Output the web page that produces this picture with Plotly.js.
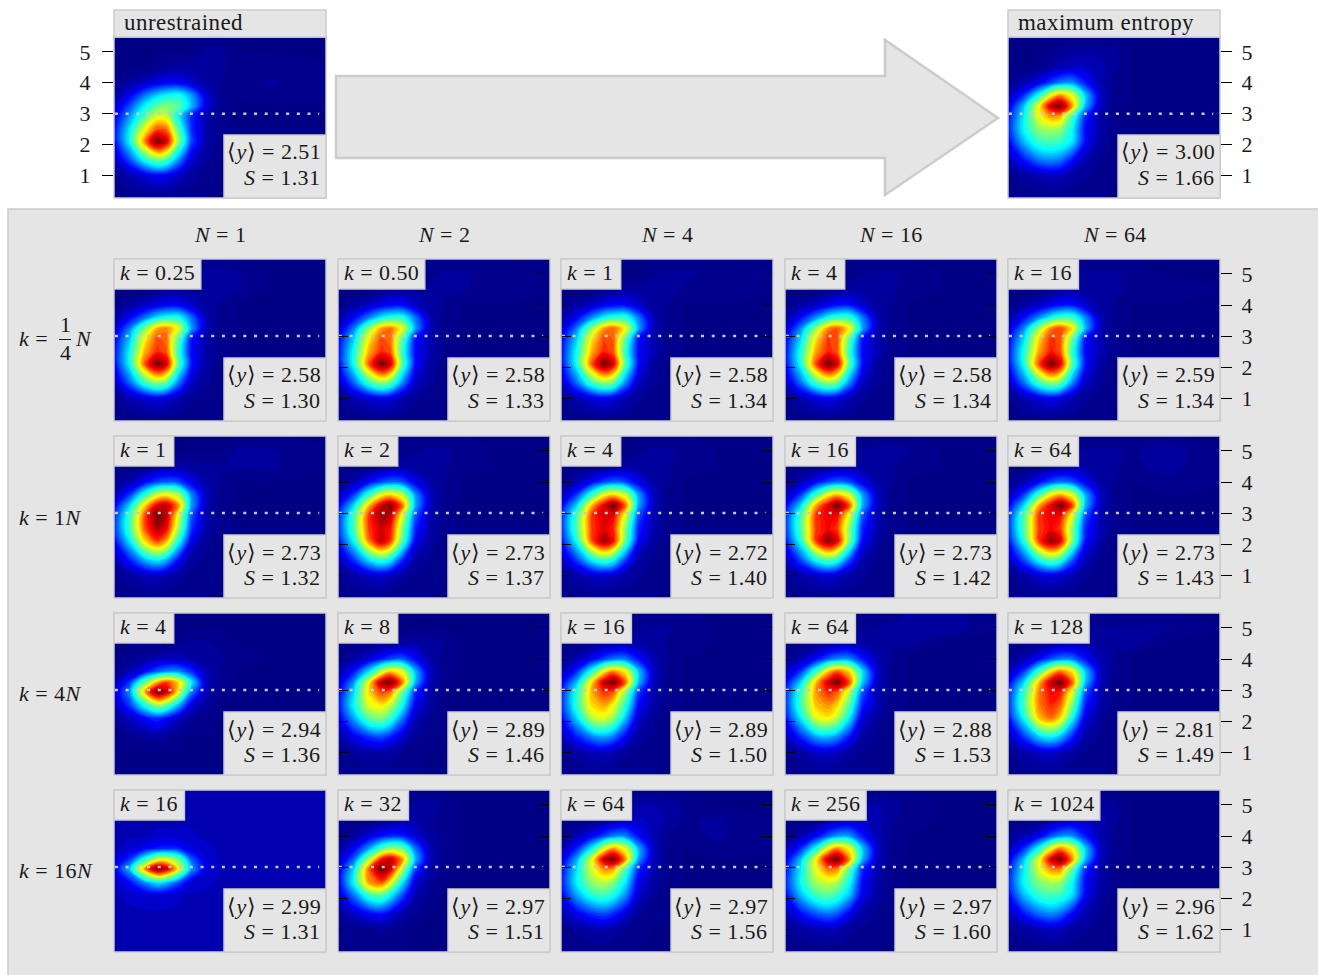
<!DOCTYPE html>
<html><head><meta charset="utf-8">
<script src="https://cdn.plot.ly/plotly-3.0.1.min.js"></script>
<style>html,body{margin:0;padding:0;background:#fff}#g{width:1318px;height:975px}.annotation-text{letter-spacing:.45px}</style>
</head><body><div id="g"></div>
<script>
const gridX=[0,.5,1,1.4,1.7,2.1,2.5,3,3.5,4,5,7];
const gridY=[5.5,5,4.5,4,3.6,3.25,2.95,2.5,2.1,1.5,1,.2];
const tickVals=[1,2,3,4,5];
const colNames=["N = 1","N = 2","N = 4","N = 16","N = 64"];

const zUnrestrained=[[0,0,0,0,0,0,0,0,0,0,0,0],[0,0,0,0,0,0,0,3,3,0,0,0],[0,0,0,2,3,4,4,4,3,1,1,0],[1,4,8,11,13,13,9,5,2,0,3,0],[4,12,24,32,36,38,28,9,1,0,1,0],[8,20,36,46,50,46,31,10,2,0,0,0],[11,26,44,58,56,36,18,6,1,0,0,0],[14,34,62,78,76,44,18,5,1,0,0,0],[13,36,74,100,90,50,20,5,1,0,0,0],[7,20,38,48,44,26,10,3,0,0,0,0],[2,6,10,13,12,8,4,1,0,0,0,0],[0,0,0,0,0,0,0,0,0,0,0,0]];
const zMaxEnt=[[0,0,0,0,0,0,0,0,0,0,0,0],[0,0,0,1,3,4,4,4,3,0,0,0],[0,0,1,4,6,8,8,6,3,0,0,0],[2,6,12,20,25,26,16,6,1,0,0,0],[6,17,38,62,72,60,32,8,1,0,0,0],[10,30,62,92,100,70,30,7,1,0,0,0],[14,34,62,74,72,44,18,5,0,0,0,0],[16,36,52,54,52,36,14,5,1,0,0,0],[13,30,42,44,42,34,14,4,1,0,0,0],[7,15,24,26,24,14,6,2,0,0,0,0],[2,4,6,8,7,4,3,1,0,0,0,0],[0,0,0,0,0,0,0,0,0,0,0,0]];

const zA1=[[0,0,0,0,0,0,0,0,0,0,0,0],[0,0,0,0,0,1,3,4,4,3,0,0],[0,0,0,2,3,4,4,4,4,3,0,0],[1,4,8,11,13,13,8,4,2,0,0,0],[4,13,24,34,38,38,24,6,1,0,0,0],[8,24,50,70,74,60,28,6,1,0,0,0],[12,30,62,78,76,46,16,5,1,0,0,0],[14,36,70,82,78,40,14,5,1,0,0,0],[13,36,78,100,90,44,16,4,0,0,0,0],[7,22,42,52,46,24,8,3,0,0,0,0],[2,6,9,11,9,6,3,1,0,0,0,0],[0,0,0,0,0,0,0,0,0,0,0,0]];
const zA2=[[0,0,0,0,0,0,0,0,0,0,0,0],[0,0,0,0,0,0,1,2,3,3,1,0],[0,0,0,2,3,4,4,3,3,3,1,0],[1,4,8,12,14,14,8,4,2,0,0,0],[4,13,25,35,39,39,24,6,1,0,0,0],[8,24,51,71,75,61,28,6,1,0,0,0],[12,31,63,78,76,46,16,6,1,0,0,0],[14,37,70,82,78,40,14,6,1,0,0,0],[13,37,78,100,90,44,15,4,0,0,0,0],[7,22,42,52,46,25,8,3,0,0,0,0],[2,6,9,11,10,6,3,1,0,0,0,0],[0,0,0,0,0,0,0,0,0,0,0,0]];
const zA3=[[0,0,0,0,0,0,0,0,0,0,0,0],[0,0,0,0,0,0,0,2,3,3,2,0],[0,0,0,2,3,4,4,4,4,2,1,0],[1,4,8,12,14,14,9,4,2,0,0,0],[4,13,26,36,40,40,25,6,1,0,0,0],[8,24,52,72,77,62,29,6,1,0,0,0],[12,31,64,79,77,47,16,6,1,0,0,0],[14,37,70,83,78,40,14,6,1,0,0,0],[13,37,78,100,89,44,15,4,0,0,0,0],[7,23,43,52,47,25,8,3,0,0,0,0],[2,6,10,12,10,6,3,1,0,0,0,0],[0,0,0,0,0,0,0,0,0,0,0,0]];
const zA4=[[0,0,0,0,0,0,0,0,0,0,0,0],[0,0,0,0,0,0,2,3,3,2,0,0],[0,0,0,2,3,4,4,4,3,1,0,0],[1,4,8,12,15,15,9,4,2,0,0,0],[4,14,26,37,41,41,25,6,1,0,0,0],[8,25,52,73,78,63,29,6,1,0,0,0],[12,32,64,80,78,47,16,6,1,0,0,0],[14,38,71,83,78,40,14,6,1,0,0,0],[13,37,79,100,89,44,15,4,0,0,0,0],[7,23,43,52,47,25,8,3,0,0,0,0],[2,6,10,12,10,6,3,1,0,0,0,0],[0,0,0,0,0,0,0,0,0,0,0,0]];
const zA5=[[0,0,0,0,0,0,0,0,0,0,0,0],[0,0,0,0,0,2,3,3,3,1,0,0],[0,0,1,2,3,4,4,4,3,2,1,0],[1,4,8,12,15,15,9,4,2,0,0,0],[4,14,26,37,42,42,26,6,1,0,0,0],[8,25,53,74,80,64,30,6,1,0,0,0],[12,32,65,81,78,48,16,6,1,0,0,0],[14,38,71,84,78,40,14,6,1,0,0,0],[13,37,79,100,88,44,15,4,0,0,0,0],[7,23,43,52,47,25,8,3,0,0,0,0],[2,6,10,12,10,6,3,1,0,0,0,0],[0,0,0,0,0,0,0,0,0,0,0,0]];

const zB1=[[0,0,0,0,0,0,0,0,0,0,0,0],[0,0,0,0,0,0,0,0,0,3,3,0],[0,0,1,3,4,4,4,3,3,3,3,0],[2,6,14,20,22,20,12,5,2,0,0,0],[6,18,40,58,62,54,26,7,1,0,0,0],[12,32,66,88,92,72,28,6,1,0,0,0],[16,40,78,100,92,60,22,6,1,0,0,0],[17,42,78,94,86,52,18,5,1,0,0,0],[13,34,66,80,70,38,12,3,0,0,0,0],[6,16,30,36,30,14,4,2,0,0,0,0],[2,4,7,8,6,4,2,1,0,0,0,0],[0,0,0,0,0,0,0,0,0,0,0,0]];
const zB2=[[0,0,0,0,0,0,0,0,0,0,0,0],[0,0,0,0,0,1,2,3,3,1,0,0],[0,0,1,3,4,4,4,4,3,1,0,0],[2,6,14,20,23,21,12,5,2,0,0,0],[6,18,41,60,65,56,27,7,1,0,0,0],[12,32,68,90,98,75,29,7,1,0,0,0],[16,41,80,96,92,60,22,6,1,0,0,0],[17,43,80,90,84,50,17,5,1,0,0,0],[14,36,74,92,80,44,13,4,0,0,0,0],[6,18,34,42,36,17,5,2,0,0,0,0],[2,5,8,9,7,4,2,1,0,0,0,0],[0,0,0,0,0,0,0,0,0,0,0,0]];
const zB3=[[0,0,0,0,0,0,0,0,0,0,0,0],[0,0,0,0,0,0,2,3,3,2,0,0],[0,0,1,2,3,4,4,4,3,1,0,0],[2,6,14,20,23,20,12,5,2,0,0,0],[6,18,41,61,66,57,28,7,1,0,0,0],[12,32,69,88,100,76,29,7,1,0,0,0],[16,42,80,90,88,60,22,6,1,0,0,0],[17,44,80,88,82,50,17,6,1,0,0,0],[14,37,78,96,85,46,14,4,0,0,0,0],[7,19,36,44,38,19,5,2,0,0,0,0],[2,5,8,9,8,5,3,1,0,0,0,0],[0,0,0,0,0,0,0,0,0,0,0,0]];
const zB4=[[0,0,0,0,0,0,0,0,0,0,0,0],[0,0,0,0,0,0,3,4,4,3,0,0],[0,0,1,2,3,4,4,4,3,1,0,0],[2,6,14,20,23,20,12,5,2,0,0,0],[6,18,42,62,68,58,28,8,1,0,0,0],[12,32,70,88,100,78,30,7,1,0,0,0],[16,42,80,88,86,60,22,6,1,0,0,0],[17,44,80,86,80,50,17,6,1,0,0,0],[14,38,80,98,88,48,14,4,0,0,0,0],[7,20,38,46,40,20,6,2,0,0,0,0],[2,5,8,10,8,5,3,1,0,0,0,0],[0,0,0,0,0,0,0,0,0,0,0,0]];
const zB5=[[0,0,0,0,0,0,0,0,0,0,0,0],[0,0,0,0,0,1,3,3,3,2,4,0],[0,0,1,2,4,5,5,4,3,1,4,0],[2,6,14,21,24,21,13,5,2,0,1,0],[6,18,42,63,69,59,29,8,1,0,0,0],[12,32,70,88,100,79,30,7,1,0,0,0],[16,42,80,88,86,60,22,6,1,0,0,0],[17,44,80,86,80,50,17,6,1,0,0,0],[14,38,80,97,88,48,15,5,0,0,0,0],[7,20,38,47,41,21,7,2,0,0,0,0],[2,5,9,11,9,6,3,1,0,0,0,0],[0,0,0,0,0,0,0,0,0,0,0,0]];

const zC1=[[0,0,0,0,0,0,0,0,0,0,0,0],[0,0,0,0,0,0,0,0,0,0,0,0],[0,0,0,0,1,2,3,3,1,0,0,0],[0,2,4,6,7,7,5,3,3,1,0,0],[2,6,14,22,26,26,18,6,2,0,0,0],[5,18,48,70,80,66,36,7,1,0,0,0],[8,26,70,100,92,62,26,6,1,0,0,0],[6,18,38,52,46,28,10,3,0,0,0,0],[3,8,14,18,14,8,3,1,0,0,0,0],[1,2,3,4,3,1,0,0,0,0,0,0],[0,0,0,0,0,0,0,0,0,0,0,0],[0,0,0,0,0,0,0,0,0,0,0,0]];
const zC2=[[0,0,0,0,0,0,0,0,0,0,0,0],[0,0,0,0,0,0,0,0,0,0,0,0],[0,0,0,2,3,4,5,4,2,0,0,0],[2,5,10,16,20,22,14,5,1,0,0,0],[5,15,34,56,68,60,30,7,1,0,0,0],[8,26,62,94,100,74,30,6,1,0,0,0],[12,32,66,80,76,48,18,5,0,0,0,0],[14,36,60,64,56,36,12,4,0,0,0,0],[11,28,46,50,42,24,7,2,0,0,0,0],[5,12,18,20,16,9,3,1,0,0,0,0],[1,3,5,5,4,2,1,0,0,0,0,0],[0,0,0,0,0,0,0,0,0,0,0,0]];
const zC3=[[0,0,0,0,0,0,0,0,0,0,0,0],[0,0,0,0,0,0,2,3,3,1,0,0],[0,0,1,3,4,5,5,4,2,1,0,0],[2,6,13,20,24,24,15,6,2,0,0,0],[6,17,40,64,74,63,32,8,1,0,0,0],[11,30,66,92,100,76,31,7,1,0,0,0],[15,38,70,82,78,52,20,6,1,0,0,0],[16,40,66,70,62,40,14,5,1,0,0,0],[13,32,56,60,52,30,9,3,0,0,0,0],[6,16,25,28,24,13,4,2,0,0,0,0],[2,4,7,8,6,3,2,1,0,0,0,0],[0,0,0,0,0,0,0,0,0,0,0,0]];
const zC4=[[0,0,0,0,0,0,0,0,0,3,4,0],[0,0,0,0,0,0,2,3,4,5,5,0],[0,0,1,3,4,5,5,4,3,3,0,0],[2,6,14,22,26,26,16,6,2,0,0,0],[6,18,42,68,78,66,34,8,1,0,0,0],[12,32,68,90,100,78,32,7,1,0,0,0],[16,40,72,82,78,56,22,6,1,0,0,0],[17,42,68,72,66,44,16,6,1,0,0,0],[14,34,60,64,56,34,10,4,0,0,0,0],[7,17,28,30,26,15,5,2,0,0,0,0],[2,4,8,9,7,4,2,1,0,0,0,0],[0,0,0,0,0,0,0,0,0,0,0,0]];
const zC5=[[0,0,0,0,0,0,0,0,0,0,0,0],[0,0,0,0,1,2,3,3,3,3,3,0],[0,0,1,3,4,5,5,4,3,4,0,0],[2,6,14,21,25,24,15,6,2,0,0,0],[6,18,42,66,76,64,32,8,1,0,0,0],[12,32,68,92,100,76,31,7,1,0,0,0],[16,40,74,86,84,60,22,6,1,0,0,0],[17,43,74,82,76,48,16,5,1,0,0,0],[14,36,68,76,66,36,11,3,0,0,0,0],[7,18,32,36,30,16,5,2,0,0,0,0],[2,5,8,9,7,4,2,1,0,0,0,0],[0,0,0,0,0,0,0,0,0,0,0,0]];

const zD1=[[7,7,7,7,7,7,7,7,7,7,7,7],[7,7,7,7,7,7,7,7,7,7,7,7],[7,7,7,7,7,7,7,7,7,7,7,7],[7,7,7,8,8,8,8,7,7,7,7,7],[7,9,13,16,17,16,11,8,7,7,7,7],[8,18,40,58,60,48,22,9,7,7,7,7],[11,30,72,100,92,62,28,10,7,7,7,7],[8,14,26,34,30,20,10,8,7,7,7,7],[7,8,9,10,9,8,7,7,7,7,7,7],[7,7,7,7,7,7,7,7,7,7,7,7],[7,7,7,7,7,7,7,7,7,7,7,7],[7,7,7,7,7,7,7,7,7,7,7,7]];
const zD2=[[0,0,0,0,0,0,0,0,0,0,0,0],[0,0,0,0,0,0,3,4,2,0,0,0],[0,0,1,2,4,5,5,3,1,0,0,0],[1,4,10,15,17,16,10,4,1,0,0,0],[4,12,28,44,52,48,24,6,1,0,0,0],[6,22,54,84,92,72,30,6,1,0,0,0],[10,32,76,100,90,56,20,5,1,0,0,0],[12,36,72,78,62,34,10,3,0,0,0,0],[9,24,42,46,36,20,6,2,0,0,0,0],[3,8,13,15,11,5,2,0,0,0,0,0],[0,1,2,3,2,1,0,0,0,0,0,0],[0,0,0,0,0,0,0,0,0,0,0,0]];
const zD3=[[0,0,0,0,0,0,0,0,0,0,0,0],[0,0,0,0,3,4,5,5,4,2,0,0],[0,0,1,3,5,7,8,7,4,2,3,0],[2,6,13,20,25,25,15,6,2,1,3,0],[5,16,36,60,72,60,30,8,1,0,1,0],[9,28,60,92,100,72,28,7,1,0,0,0],[13,33,60,74,72,44,18,6,1,0,0,0],[15,35,52,56,50,34,12,4,1,0,0,0],[12,28,40,43,38,26,9,3,0,0,0,0],[5,12,18,20,17,10,3,1,0,0,0,0],[1,3,5,6,4,2,1,0,0,0,0,0],[0,0,0,0,0,0,0,0,0,0,0,0]];
const zD4=[[0,0,0,0,0,0,0,0,0,0,0,0],[0,0,0,0,2,3,4,5,4,1,0,0],[0,0,1,4,6,8,8,6,3,1,0,0],[2,6,13,22,27,27,16,6,2,0,0,0],[6,17,38,63,74,62,32,8,1,0,0,0],[10,30,62,92,100,72,30,7,1,0,0,0],[14,34,62,76,74,46,18,6,0,0,0,0],[16,36,54,58,54,37,14,5,1,0,0,0],[13,30,43,46,42,30,12,4,1,0,0,0],[6,14,21,24,21,12,5,2,0,0,0,0],[2,4,6,7,6,3,2,1,0,0,0,0],[0,0,0,0,0,0,0,0,0,0,0,0]];
const zD5=[[0,0,0,0,0,0,0,0,0,0,0,0],[0,0,0,0,2,3,4,4,3,0,0,0],[0,0,1,4,6,8,8,6,3,0,0,0],[2,6,12,21,26,26,16,6,1,0,0,0],[6,17,38,62,74,62,32,8,1,0,0,0],[10,30,60,90,100,72,30,7,1,0,0,0],[14,34,60,74,74,46,18,5,0,0,0,0],[16,36,50,54,52,36,14,5,1,0,0,0],[13,30,41,44,42,33,13,4,1,0,0,0],[7,15,23,26,23,13,6,2,0,0,0,0],[2,4,6,8,7,4,3,1,0,0,0,0],[0,0,0,0,0,0,0,0,0,0,0,0]];

const gridPanels=[[zA1,zA2,zA3,zA4,zA5],[zB1,zB2,zB3,zB4,zB5],[zC1,zC2,zC3,zC4,zC5],[zD1,zD2,zD3,zD4,zD5]];
const kLabels=[["0.25","0.50","1","4","16"],["1","2","4","16","64"],["4","8","16","64","128"],["16","32","64","256","1024"]];
const meanY=[["2.58","2.58","2.58","2.58","2.59"],["2.73","2.73","2.72","2.73","2.73"],["2.94","2.89","2.89","2.88","2.81"],["2.99","2.97","2.97","2.97","2.96"]];
const entropy=[["1.30","1.33","1.34","1.34","1.34"],["1.32","1.37","1.40","1.42","1.43"],["1.36","1.46","1.50","1.53","1.49"],["1.31","1.51","1.56","1.60","1.62"]];

const W=1318,H=975,FONT="Liberation Serif",TXT="#1a1a1a",BOX="#e5e5e5",EDGE="#cccccc";
const fx=x=>x/W, fy=y=>1-y/H;
const jet=[[0,"#000085"],[.05,"#0000a4"],[.14,"#0000ff"],[.36,"#00ffff"],[.5,"#7dff7a"],[.63,"#ffff00"],[.85,"#ff0000"],[.98,"#7f0000"],[1,"#7f0000"]];
const data=[],shapes=[],annotations=[],layout={};
let n=0;
function rect(x0,y0,x1,y1,fill,layer){shapes.push({type:"rect",xref:"paper",yref:"paper",x0:fx(x0),x1:fx(x1),y0:fy(y1),y1:fy(y0),fillcolor:fill,line:{color:EDGE,width:1.5},layer:layer||"above"});}
function label(x,y,text,anchor,size){annotations.push({xref:"paper",yref:"paper",x:fx(x),y:fy(y-1),text:text,showarrow:false,xanchor:anchor,yanchor:"middle",font:{family:FONT,size:size||22,color:TXT},borderpad:0,borderwidth:0});}
function panel(z,x0,y0,w,h,tick){
  n++;const s=n===1?"":String(n);
  data.push({type:"contour",x:gridX,y:gridY,z:z,xaxis:"x"+s,yaxis:"y"+s,colorscale:jet,zmin:0,zmax:100,showscale:false,hoverinfo:"skip",
    contours:{start:0,end:100,size:2.5,coloring:"fill",showlines:false},line:{width:0,smoothing:1.1}});
  data.push({type:"scatter",mode:"lines",x:[.03,6.65],y:[3,3],xaxis:"x"+s,yaxis:"y"+s,hoverinfo:"skip",showlegend:false,line:{color:"#c8c8c8",width:2.5,dash:"3px,7.7px"}});
  layout["xaxis"+s]={domain:[fx(x0),fx(x0+w)],range:[0,6.87],visible:false,fixedrange:true,anchor:"y"+s};
  const ya={domain:[fy(y0+h),fy(y0)],range:[.27,5.48],fixedrange:true,anchor:"x"+s,showgrid:false,zeroline:false,showline:false,tickmode:"array",tickvals:tickVals,ticktext:tickVals.map(String),tickcolor:"#000",tickwidth:1,tickfont:{family:FONT,size:22,color:TXT}};
  if(tick==="none"){ya.ticks="";ya.showticklabels=false;}
  else if(tick==="inner"){ya.ticks="inside";ya.ticklen=10;ya.mirror="ticks";ya.showticklabels=false;}
  else{ya.side=tick;ya.ticks="outside";ya.ticklen=11;ya.ticklabelstandoff=tick==="right"?5:7;}
  layout["yaxis"+s]=ya;
}
const COLX=[114,338,561,785,1008],ROWY=[259,436,613,790];
rect(8,209,1330,990,BOX,"below");
const arrow=[[336,76],[885,76],[885,40],[998,118],[885,195],[885,158],[336,158]];
shapes.push({type:"path",xref:"paper",yref:"paper",layer:"below",fillcolor:BOX,line:{color:EDGE,width:2.5},path:"M"+arrow.map(p=>fx(p[0])+","+fy(p[1])).join("L")+"Z"});
panel(zUnrestrained,114,37,212,161,"left");
panel(zMaxEnt,1008,37,212,161,"right");
function stats(x0,y0,w,h,m,e){
  rect(x0+110,y0+h-63,x0+w,y0+h,BOX);
  label(x0+w-5,y0+h-45,"⟨<i>y</i>⟩ = "+m,"right");
  label(x0+w-5,y0+h-20,"<i>S</i> = "+e,"right");
}
rect(114,37,326,198,"rgba(0,0,0,0)");rect(1008,37,1220,198,"rgba(0,0,0,0)");
rect(114,10,326,37,BOX);rect(1008,10,1220,37,BOX);
label(124,23,"unrestrained","left",23);label(1018,23,"maximum entropy","left",23);
stats(114,37,212,161,"2.51","1.31");stats(1008,37,212,161,"3.00","1.66");
gridPanels.forEach((row,r)=>row.forEach((z,c)=>{
  const x0=COLX[c],y0=ROWY[r];
  panel(z,x0,y0,212,162,c===0?"none":c===4?"right":"inner");
  rect(x0,y0,x0+212,y0+162,"rgba(0,0,0,0)");
  const t=kLabels[r][c];
  rect(x0,y0,x0+49+t.length*10.7-(t.includes(".")?5:0),y0+30,BOX);
  label(x0+6,y0+14,"<i>k</i> = "+t,"left");
  stats(x0,y0,212,162,meanY[r][c],entropy[r][c]);
}));
colNames.forEach((t,i)=>{const p=t.split(" = ");label(COLX[i]+(i===4?107:106),235,"<i>"+p[0]+"</i> = "+p[1],"center");});
label(19,339,"<i>k</i> =","left");label(65,325,"1","center");label(65,353,"4","center");label(75,339,"<i>N</i>","left");
shapes.push({type:"line",xref:"paper",yref:"paper",x0:fx(59),x1:fx(71),y0:fy(339.5),y1:fy(339.5),line:{color:TXT,width:1},layer:"above"});
[["1",518],["4",694],["16",871]].forEach(p=>label(19,p[1],"<i>k</i> = "+p[0]+"<i>N</i>","left"));

Object.assign(layout,{width:W,height:H,margin:{l:0,r:0,t:0,b:0,pad:0},paper_bgcolor:"#fff",plot_bgcolor:"#000085",showlegend:false,shapes:shapes,annotations:annotations,font:{family:FONT}});
Plotly.newPlot("g",data,layout,{displayModeBar:false,staticPlot:true});
</script></body></html>
